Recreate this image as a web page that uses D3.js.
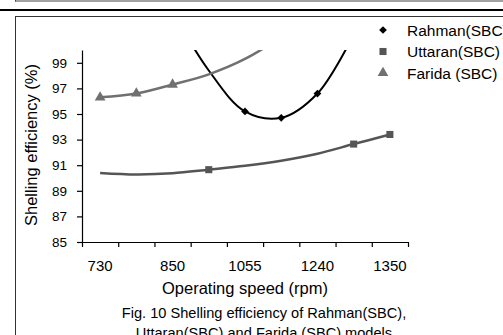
<!DOCTYPE html>
<html lang="en">
<head>
    <meta charset="UTF-8" />
    <title>Shelling efficiency</title>
    <script src="https://d3js.org/d3.v7.min.js"></script>
    <style>
        body { margin: 0; background: #fff; }
        svg { display: block; font-family: "Liberation Sans", Arial, sans-serif; }
    </style>
</head>

<body>
    <script>
        var w = 503;
        var h = 335;

        // Data
        var speedLabels = ["730", "", "850", "", "1055", "", "1240", "", "1350"];
        var rahman = [null, null, 103.0, 98.4, 95.2, 94.7, 96.6, 101.2, null];
        var uttaran = [90.4, 90.28, 90.37, 90.65, 90.95, 91.35, 91.9, 92.65, 93.4];
        var farida = [96.3, 96.6, 97.3, 98.1, 99.3, 101.0, null, null, null];
        var rahmanMarks = [4, 5, 6];
        var uttaranMarks = [3, 7, 8];
        var faridaMarks = [0, 1, 2];
        var yTicks = [85, 87, 89, 91, 93, 95, 97, 99];
        var seriesNames = ["Rahman(SBC)", "Uttaran(SBC)", "Farida (SBC)"];

        var series = [
            { name: seriesNames[0], values: rahman, marks: rahmanMarks, color: "#000", marker: d3.symbolSquare, rot: 45, size: 30, width: 2 },
            { name: seriesNames[1], values: uttaran, marks: uttaranMarks, color: "#555", marker: d3.symbolSquare, rot: 0, size: 50, width: 2.5 },
            { name: seriesNames[2], values: farida, marks: faridaMarks, color: "#707070", marker: d3.symbolTriangle, rot: 0, size: 50, width: 2.5 }
        ];

        var svg = d3.select("body")
            .append("svg")
            .attr("width", w)
            .attr("height", h);

        // frame lines around the figure
        svg.append("line").attr("x1", 15).attr("x2", w).attr("y1", 1).attr("y2", 1)
            .attr("stroke", "#444").attr("stroke-width", 1.2);
        svg.append("line").attr("x1", 15.5).attr("x2", 15.5).attr("y1", 0).attr("y2", 1.5)
            .attr("stroke", "#444");
        svg.append("line").attr("x1", 0).attr("x2", w).attr("y1", 10).attr("y2", 10)
            .attr("stroke", "#000").attr("stroke-width", 2.2);
        svg.append("rect").attr("x", 15.5).attr("y", 16.5).attr("width", w).attr("height", h)
            .attr("fill", "none").attr("stroke", "#333").attr("stroke-width", 1);

        var plotLeft = 82, plotRight = 408, plotTop = 50, plotBottom = 242;

        // Scales
        var xScale = d3.scaleBand()
            .domain(d3.range(speedLabels.length))
            .range([plotLeft, plotRight]);

        var xEdge = d3.scaleLinear()
            .domain([0, speedLabels.length])
            .range([plotLeft, plotRight]);

        var yScale = d3.scaleLinear()
            .domain([85, 100])
            .range([plotBottom, plotTop]);

        // Axes
        var yAxis = svg.append("g")
            .attr("transform", "translate(" + plotLeft + ",0)")
            .call(d3.axisLeft(yScale).tickValues(yTicks).tickSize(5).tickSizeOuter(0));
        yAxis.selectAll("text").attr("font-size", 13.5).attr("x", -15).attr("fill", "#000");

        svg.append("g")
            .attr("transform", "translate(0," + plotBottom + ")")
            .call(d3.axisBottom(xEdge).tickValues(d3.range(speedLabels.length + 1)).tickFormat("").tickSize(5).tickSizeOuter(0));

        var xLab = svg.append("g")
            .attr("transform", "translate(0," + plotBottom + ")")
            .call(d3.axisBottom(xScale).tickSize(0).tickFormat(function(i) { return speedLabels[i]; }));
        xLab.select(".domain").remove();
        xLab.selectAll("text").attr("font-size", 15).attr("dy", 0).attr("y", 29).attr("fill", "#000");

        svg.selectAll(".domain, .tick line").attr("stroke", "#000").attr("stroke-width", 1.2);

        // Axis titles
        svg.append("text")
            .attr("x", 245).attr("y", 294)
            .attr("text-anchor", "middle")
            .attr("font-size", 16.5)
            .text("Operating speed (rpm)");

        svg.append("text")
            .attr("transform", "translate(37,145) rotate(-90)")
            .attr("text-anchor", "middle")
            .attr("font-size", 16.5)
            .text("Shelling efficiency (%)");

        // Caption (second line runs off the bottom, as in the source)
        svg.append("text")
            .attr("x", 264).attr("y", 318)
            .attr("text-anchor", "middle")
            .attr("font-size", 14.6)
            .text("Fig. 10 Shelling efficiency of Rahman(SBC),");
        svg.append("text")
            .attr("x", 264).attr("y", 338)
            .attr("text-anchor", "middle")
            .attr("font-size", 14.6)
            .text("Uttaran(SBC) and Farida (SBC) models");

        // Clip to plot area
        svg.append("clipPath").attr("id", "plot")
            .append("rect")
            .attr("x", plotLeft).attr("y", plotTop)
            .attr("width", plotRight - plotLeft).attr("height", plotBottom - plotTop);

        var line = d3.line()
            .defined(function(d) { return d != null; })
            .x(function(d, i) { return xScale(i) + xScale.bandwidth() / 2; })
            .y(function(d) { return yScale(d); })
            .curve(d3.curveCatmullRom);

        var plot = svg.append("g").attr("clip-path", "url(#plot)");

        series.forEach(function(s) {
            plot.append("path")
                .attr("d", line(s.values))
                .attr("fill", "none")
                .attr("stroke", s.color)
                .attr("stroke-width", s.width);

            plot.selectAll(null)
                .data(s.marks)
                .enter()
                .append("path")
                .attr("d", d3.symbol().type(s.marker).size(s.size))
                .attr("transform", function(i) {
                    return "translate(" + (xScale(i) + xScale.bandwidth() / 2) + "," + yScale(s.values[i]) + ") rotate(" + s.rot + ")";
                })
                .attr("fill", s.color);
        });

        // Legend (runs past the right edge like the source)
        var legend = svg.selectAll(".legend")
            .data(series)
            .enter()
            .append("g")
            .attr("transform", function(d, i) { return "translate(383," + (30 + i * 21.5) + ")"; });

        legend.append("path")
            .attr("d", function(d) { return d3.symbol().type(d.marker).size(d.size)(); })
            .attr("transform", function(d) { return "rotate(" + d.rot + ")"; })
            .attr("fill", function(d) { return d.color; });

        legend.append("text")
            .attr("x", 24).attr("y", 5.5)
            .attr("font-size", 15.5)
            .text(function(d) { return d.name; });
    </script>
</body>
</html>
